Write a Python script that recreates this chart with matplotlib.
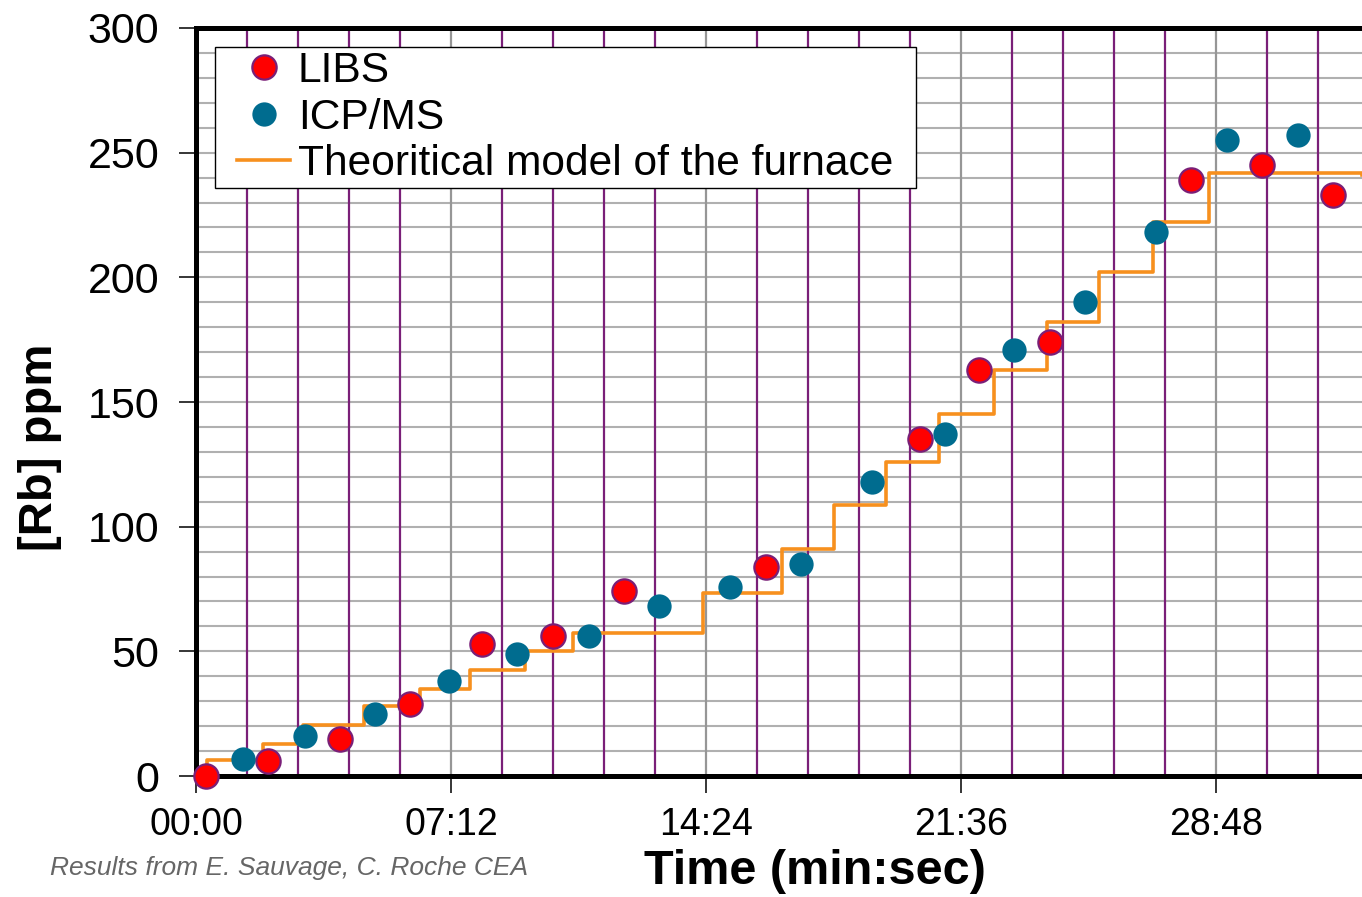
#! /usr/bin/python3
""" Rb concentration in the furnace: LIBS vs ICP/MS vs theoretical model. """
import matplotlib
matplotlib.use("Agg")
import matplotlib.pyplot as plt
from matplotlib.patches import Rectangle
from matplotlib.ticker import MultipleLocator, FuncFormatter

# Data (time in seconds, [Rb] in ppm)
libsTime = [17, 122, 244, 363, 485, 605, 725, 966, 1227, 1327, 1447, 1686, 1806, 1926]
libsRb = [0, 6, 15, 29, 53, 56, 74, 84, 135, 163, 174, 239, 245, 233]

icpTime = [80, 185, 303, 429, 544, 666, 784, 905, 1025, 1145, 1269, 1386, 1506, 1626, 1747, 1867]
icpRb = [7, 16, 25, 38, 49, 56, 68, 76, 85, 118, 137, 171, 190, 218, 255, 257]

# Theoretical model: step start times and plateau levels
modelTime = [0, 19, 114, 181, 285, 380, 464, 557, 639, 859, 993, 1081, 1169, 1259,
             1352, 1442, 1530, 1621, 1716, 1975]
modelRb = [0, 6.5, 13, 20.5, 28, 35, 42.5, 50, 57.5, 73.5, 91, 108.5, 126, 145,
           163, 182, 202, 222, 242, 241]

# Horizontal grid every 10 ppm
gridLevels = list(range(10, 300, 10))

plt.rcParams['font.family'] = ['Liberation Sans', 'DejaVu Sans']

fig = plt.figure(figsize=(13.62, 8.97), dpi=100)
ax = fig.add_axes([196 / 1362, 1 - 776 / 897, 1 - 196 / 1362, (776 - 28) / 897])

ax.set_xlim(0, 1975)
ax.set_ylim(0, 300)
ax.xaxis.set_major_locator(MultipleLocator(432))
ax.xaxis.set_minor_locator(MultipleLocator(86.4))
ax.yaxis.set_major_locator(MultipleLocator(50))
ax.xaxis.set_major_formatter(FuncFormatter(lambda s, p: "%02d:%02d" % (int(round(s)) // 60, int(round(s)) % 60)))

# Grid: gray horizontal lines, gray vertical at majors, purple vertical at minors
ax.hlines(gridLevels, 0, 1, transform=ax.get_yaxis_transform(), color='#b0b0b0',
          linewidth=1.5, zorder=0.3)
ax.grid(which='major', axis='x', color='#969696', linewidth=1.6)
ax.grid(which='minor', axis='x', color='#7a1f78', linewidth=1.6)
ax.set_axisbelow(True)

ax.step(modelTime, modelRb, where='post', color='#f7901e', linewidth=2.6,
        label='Theoritical model of the furnace', zorder=3)
ax.plot(libsTime, libsRb, linestyle='none', marker='o', markersize=17.5,
        markerfacecolor='#ff0000', markeredgecolor='#7a1f78', markeredgewidth=1.6,
        label='LIBS', zorder=4, clip_on=False)
ax.plot(icpTime, icpRb, linestyle='none', marker='o', markersize=17.5,
        markerfacecolor='#006c8f', markeredgecolor='#006c8f', markeredgewidth=0,
        label='ICP/MS', zorder=4, clip_on=False)

# Spines and ticks
for side in ['left', 'top', 'bottom']:
    ax.spines[side].set_linewidth(3.6)
    ax.spines[side].set_color('black')
ax.spines['right'].set_visible(False)
ax.tick_params(which='major', direction='out', length=12, width=1.1)
ax.tick_params(which='minor', length=0)
ax.tick_params(axis='x', labelsize=27, pad=10)
ax.tick_params(axis='y', labelsize=31, pad=14.5)

ax.set_ylabel('[Rb] ppm', fontsize=34, fontweight='bold')
ax.yaxis.set_label_coords(-0.115, 0.44)
ax.set_xlabel('Time (min:sec)', fontsize=35, fontweight='bold', va='center')
ax.xaxis.set_label_coords(0.531, -0.128)

handles, labels = ax.get_legend_handles_labels()
order = [1, 2, 0]
leg = ax.legend([handles[i] for i in order], [labels[i] for i in order],
                loc='upper left', bbox_to_anchor=(0.0317, 0.9746), borderaxespad=0,
                fontsize=30.6, frameon=False, handlelength=1.25, handletextpad=0.18,
                labelspacing=0.15, borderpad=0.1, numpoints=1)
leg.set_zorder(6)

# Legend frame with wider side padding than top/bottom
fig.canvas.draw()
bb = leg.get_window_extent().transformed(fig.transFigure.inverted())
padX = 18 / 1362
ax.add_artist(Rectangle((bb.x0 - padX, bb.y0), bb.width + 2 * padX, bb.height,
                        transform=fig.transFigure, facecolor='white', edgecolor='black',
                        linewidth=1, zorder=5))

fig.text(50 / 1362, 1 - 868 / 897, 'Results from E. Sauvage, C. Roche CEA',
         fontsize=19, style='italic', color='#666666', va='center', ha='left')

fig.savefig('out.png', dpi=100)
